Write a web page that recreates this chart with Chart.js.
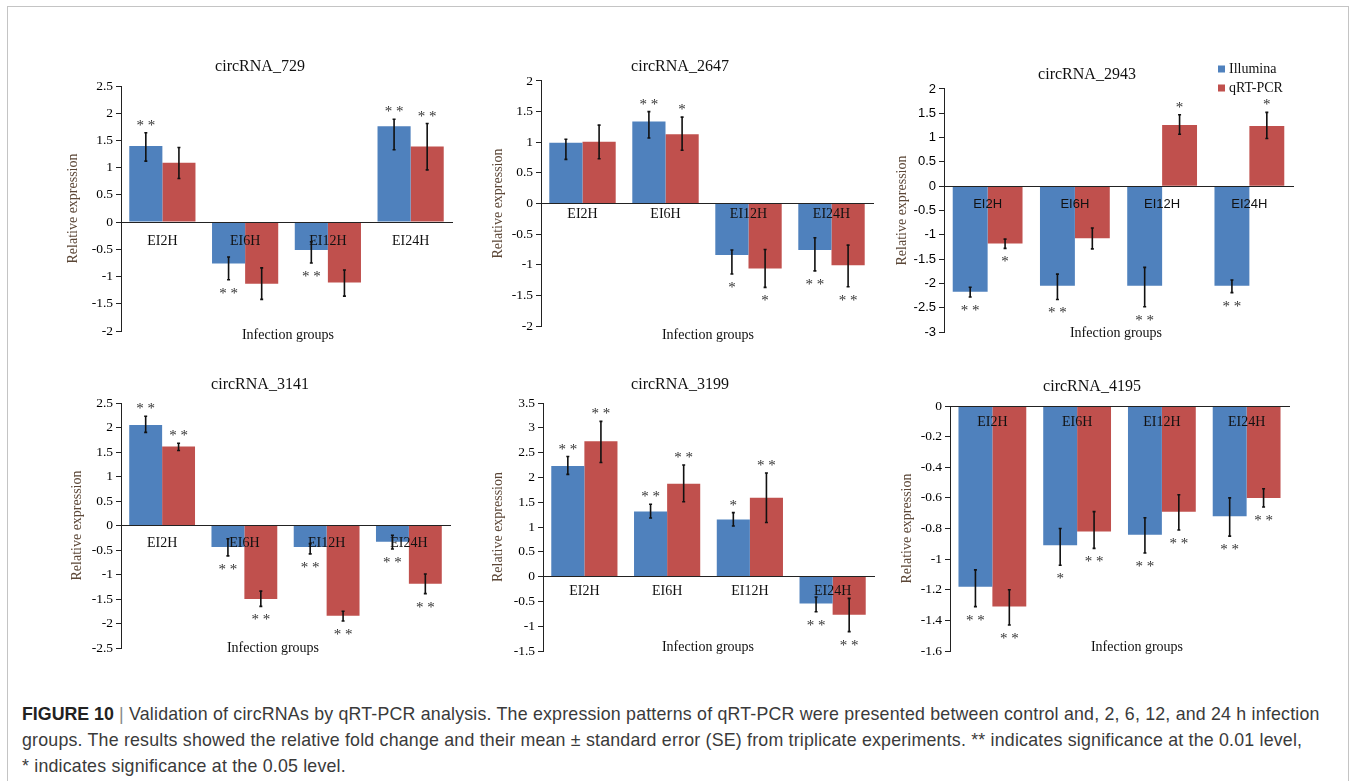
<!DOCTYPE html>
<html>
<head>
<meta charset="utf-8">
<script src="https://cdn.jsdelivr.net/npm/chart.js@4.4.1/dist/chart.umd.min.js"></script>
<style>
    body { margin: 0; background: #fff; width: 1356px; height: 781px; overflow: hidden; position: relative; }
    .frame { position: absolute; left: 7px; top: 6px; width: 1340px; height: 800px; border: 1px solid #c4c4c4; }
    canvas { position: absolute; }
    .caption {
        position: absolute; left: 22px; top: 701px; white-space: nowrap; letter-spacing: 0.2px;
        font-family: "Liberation Sans", Arial, sans-serif; font-size: 17.8px; line-height: 26px; color: #3a3a3a;
    }
    .caption b { color: #222; letter-spacing: 0; }
    .caption .bar { color: #888; }
</style>
</head>
<body>
<div class="frame"></div>

<div class="caption"><b>FIGURE 10</b> <span class="bar">|</span> Validation of circRNAs by qRT-PCR analysis. The expression patterns of qRT-PCR were presented between control and, 2, 6, 12, and 24 h infection<br>groups. The results showed the relative fold change and their mean ± standard error (SE) from triplicate experiments. ** indicates significance at the 0.01 level,<br>* indicates significance at the 0.05 level.</div>

<script>
// categories and series
var categories = ["EI2H", "EI6H", "EI12H", "EI24H"];
var seriesNames = ["Illumina", "qRT-PCR"];

// circRNA_729
var c729_illumina = [1.40, -0.76, -0.51, 1.76];
var c729_qpcr = [1.09, -1.13, -1.11, 1.39];
var c729_illumina_hi = [1.64, -0.64, -0.36, 1.89];
var c729_illumina_lo = [1.12, -1.06, -0.75, 1.33];
var c729_qpcr_hi = [1.37, -0.84, -0.88, 1.81];
var c729_qpcr_lo = [0.80, -1.42, -1.36, 0.96];
var c729_illumina_sig = ["**", "**", "**", "**"];
var c729_qpcr_sig = ["", "", "", "**"];

// circRNA_2647
var c2647_illumina = [0.99, 1.34, -0.84, -0.76];
var c2647_qpcr = [1.01, 1.13, -1.06, -1.01];
var c2647_illumina_hi = [1.05, 1.50, -0.76, -0.56];
var c2647_illumina_lo = [0.72, 1.07, -1.15, -1.10];
var c2647_qpcr_hi = [1.28, 1.41, -0.75, -0.68];
var c2647_qpcr_lo = [0.73, 0.87, -1.37, -1.36];
var c2647_illumina_sig = ["", "**", "*", "**"];
var c2647_qpcr_sig = ["", "*", "*", "**"];

// circRNA_2943
var c2943_illumina = [-2.17, -2.05, -2.05, -2.05];
var c2943_qpcr = [-1.18, -1.07, 1.26, 1.24];
var c2943_illumina_hi = [-2.08, -1.81, -1.67, -1.93];
var c2943_illumina_lo = [-2.28, -2.33, -2.48, -2.19];
var c2943_qpcr_hi = [-1.09, -0.86, 1.47, 1.52];
var c2943_qpcr_lo = [-1.28, -1.29, 1.07, 0.98];
var c2943_illumina_sig = ["**", "**", "**", "**"];
var c2943_qpcr_sig = ["*", "", "*", "*"];

// circRNA_3141
var c3141_illumina = [2.05, -0.44, -0.44, -0.33];
var c3141_qpcr = [1.61, -1.50, -1.84, -1.19];
var c3141_illumina_hi = [2.23, -0.27, -0.37, -0.20];
var c3141_illumina_lo = [1.90, -0.62, -0.58, -0.48];
var c3141_qpcr_hi = [1.68, -1.34, -1.75, -0.99];
var c3141_qpcr_lo = [1.53, -1.65, -1.95, -1.39];
var c3141_illumina_sig = ["**", "**", "**", "**"];
var c3141_qpcr_sig = ["**", "**", "**", "**"];

// circRNA_3199
var c3199_illumina = [2.23, 1.31, 1.15, -0.54];
var c3199_qpcr = [2.73, 1.87, 1.59, -0.77];
var c3199_illumina_hi = [2.42, 1.46, 1.29, -0.41];
var c3199_illumina_lo = [2.06, 1.18, 1.02, -0.71];
var c3199_qpcr_hi = [3.13, 2.25, 2.09, -0.44];
var c3199_qpcr_lo = [2.30, 1.51, 1.09, -1.11];
var c3199_illumina_sig = ["**", "**", "*", "**"];
var c3199_qpcr_sig = ["**", "**", "**", "**"];

// circRNA_4195
var c4195_illumina = [-1.18, -0.91, -0.84, -0.72];
var c4195_qpcr = [-1.31, -0.82, -0.69, -0.60];
var c4195_illumina_hi = [-1.07, -0.80, -0.73, -0.60];
var c4195_illumina_lo = [-1.31, -1.04, -0.96, -0.85];
var c4195_qpcr_hi = [-1.20, -0.69, -0.58, -0.54];
var c4195_qpcr_lo = [-1.43, -0.93, -0.81, -0.66];
var c4195_illumina_sig = ["**", "*", "**", "**"];
var c4195_qpcr_sig = ["**", "**", "**", "**"];

var BLUE = "#4F81BD";
var RED = "#C0504D";
var SERIF = "'Liberation Serif', 'Times New Roman', serif";
var SANS = "'Liberation Sans', Arial, sans-serif";

// error bars + significance stars + x caption + optional legend
var extrasPlugin = {
    id: "extras",
    afterDraw: function (chart, args, opts) {
        var ctx = chart.ctx;
        var yScale = chart.scales.y;
        ctx.save();
        chart.data.datasets.forEach(function (ds, di) {
            var meta = chart.getDatasetMeta(di);
            meta.data.forEach(function (bar, i) {
                var hi = yScale.getPixelForValue(ds.errHi[i]);
                var lo = yScale.getPixelForValue(ds.errLo[i]);
                ctx.strokeStyle = "#111";
                ctx.lineWidth = 1.6;
                ctx.beginPath();
                ctx.moveTo(bar.x, hi);
                ctx.lineTo(bar.x, lo);
                ctx.moveTo(bar.x - 1.5, hi);
                ctx.lineTo(bar.x + 1.5, hi);
                ctx.moveTo(bar.x - 1.5, lo);
                ctx.lineTo(bar.x + 1.5, lo);
                ctx.stroke();
                var s = ds.sig[i];
                if (s) {
                    ctx.fillStyle = "#333";
                    ctx.font = "15px " + SERIF;
                    ctx.textAlign = "center";
                    ctx.textBaseline = "alphabetic";
                    var cy = ds.data[i] >= 0 ? hi - 10 : lo + 11;
                    ctx.fillText(s.split("").join(" "), bar.x, cy + 7);
                }
            });
        });
        // x axis caption
        ctx.fillStyle = "#111";
        ctx.font = "14px " + SERIF;
        ctx.textAlign = "center";
        ctx.textBaseline = "middle";
        ctx.fillText("Infection groups", opts.xTitleX, opts.xTitleY);
        // legend
        if (opts.legend) {
            chart.data.datasets.forEach(function (ds, di) {
                var ly = opts.legendY + di * 19;
                ctx.fillStyle = ds.backgroundColor;
                ctx.fillRect(opts.legendX, ly - 3.5, 7, 7);
                ctx.fillStyle = "#111";
                ctx.font = "14px " + SERIF;
                ctx.textAlign = "left";
                ctx.textBaseline = "middle";
                ctx.fillText(ds.label, opts.legendX + 11, ly);
            });
        }
        ctx.restore();
    },
};

function makePanel(p) {
    var pT = 4;
    var y0 = Math.round(p.titleY - 9.6 - pT);
    var x0 = p.x0;
    var pL = 2 * (p.titleX - x0) - (p.plotR - x0);
    var pR = 12;
    var W = p.plotR - x0 + pR;
    var H = Math.round(p.plotB - y0 + 24);
    var pB = H - (p.plotB - y0);
    var titleBottom = p.plotT - (y0 + pT + 19.2);
    var yw = p.plotL - x0 - pL;
    var yTitlePad = p.yTitleX - x0 - pL - 8.4;
    var tickFont = p.sans ? { family: SANS, size: 13 } : { family: SERIF, size: 13.5 };
    var catFont = p.sans ? { family: SANS, size: 13 } : { family: SERIF, size: 14 };
    var catHalf = p.sans ? 7.8 : 8.4;

    var canvas = document.createElement("canvas");
    canvas.width = W;
    canvas.height = H;
    canvas.style.left = x0 + "px";
    canvas.style.top = y0 + "px";
    document.body.appendChild(canvas);

    new Chart(canvas, {
        type: "bar",
        data: {
            labels: categories,
            datasets: [
                {
                    label: seriesNames[0],
                    data: p.a,
                    errHi: p.aHi,
                    errLo: p.aLo,
                    sig: p.aSig,
                    backgroundColor: BLUE,
                    borderWidth: 0,
                },
                {
                    label: seriesNames[1],
                    data: p.b,
                    errHi: p.bHi,
                    errLo: p.bLo,
                    sig: p.bSig,
                    backgroundColor: RED,
                    borderWidth: 0,
                },
            ],
        },
        options: {
            responsive: false,
            animation: false,
            devicePixelRatio: 1,
            layout: { padding: { left: pL, right: pR, top: pT, bottom: pB } },
            datasets: { bar: { categoryPercentage: 0.8, barPercentage: 1.0 } },
            scales: {
                x: {
                    position: { y: 0 },
                    offset: true,
                    grid: { display: false, drawTicks: false },
                    border: { display: true, color: "#222", width: 1, z: 1 },
                    ticks: {
                        color: "#111",
                        font: catFont,
                        padding: p.labelOff - catHalf,
                        z: 1,
                        maxRotation: 0,
                        autoSkip: false,
                    },
                },
                y: {
                    min: p.yMin,
                    max: p.yMax,
                    ticks: {
                        stepSize: p.step,
                        color: "#000",
                        font: tickFont,
                        padding: 3,
                        callback: function (v) {
                            return String(Math.round(v * 10) / 10);
                        },
                    },
                    grid: { display: true, drawOnChartArea: false, drawTicks: true, tickLength: 5, color: "#222" },
                    border: { display: true, color: "#222", width: 1 },
                    title: {
                        display: true,
                        text: "Relative expression",
                        color: "#5b4636",
                        font: { family: SERIF, size: 14 },
                        padding: { top: yTitlePad, bottom: 0 },
                    },
                    afterFit: function (s) {
                        s.width = yw;
                    },
                },
            },
            plugins: {
                legend: { display: false },
                tooltip: { enabled: false },
                title: {
                    display: true,
                    text: p.title,
                    color: "#111",
                    font: { family: SERIF, size: 16, weight: "normal" },
                    padding: { top: 0, bottom: titleBottom },
                },
                extras: {
                    xTitleX: p.xTitleX - x0,
                    xTitleY: p.xTitleY - y0,
                    legend: !!p.legend,
                    legendX: 1218 - x0,
                    legendY: 69 - y0,
                },
            },
        },
        plugins: [extrasPlugin],
    });
}

makePanel({
    title: "circRNA_729", x0: 60, titleX: 260, titleY: 67,
    plotL: 121, plotR: 452, plotT: 86, plotB: 331, yTitleX: 73,
    xTitleX: 288, xTitleY: 335, labelOff: 19,
    yMin: -2, yMax: 2.5, step: 0.5,
    a: c729_illumina, aHi: c729_illumina_hi, aLo: c729_illumina_lo, aSig: c729_illumina_sig,
    b: c729_qpcr, bHi: c729_qpcr_hi, bLo: c729_qpcr_lo, bSig: c729_qpcr_sig,
});
makePanel({
    title: "circRNA_2647", x0: 480, titleX: 680, titleY: 67,
    plotL: 541, plotR: 873, plotT: 81, plotB: 326, yTitleX: 498,
    xTitleX: 708, xTitleY: 335, labelOff: 11,
    yMin: -2, yMax: 2, step: 0.5,
    a: c2647_illumina, aHi: c2647_illumina_hi, aLo: c2647_illumina_lo, aSig: c2647_illumina_sig,
    b: c2647_qpcr, bHi: c2647_qpcr_hi, bLo: c2647_qpcr_lo, bSig: c2647_qpcr_sig,
});
makePanel({
    title: "circRNA_2943", x0: 880, titleX: 1087, titleY: 75,
    plotL: 944, plotR: 1293, plotT: 89, plotB: 332, yTitleX: 902,
    xTitleX: 1116, xTitleY: 333, labelOff: 18, sans: true, legend: true,
    yMin: -3, yMax: 2, step: 0.5,
    a: c2943_illumina, aHi: c2943_illumina_hi, aLo: c2943_illumina_lo, aSig: c2943_illumina_sig,
    b: c2943_qpcr, bHi: c2943_qpcr_hi, bLo: c2943_qpcr_lo, bSig: c2943_qpcr_sig,
});
makePanel({
    title: "circRNA_3141", x0: 60, titleX: 260, titleY: 385,
    plotL: 121, plotR: 450, plotT: 403, plotB: 648, yTitleX: 77,
    xTitleX: 273, xTitleY: 648, labelOff: 18,
    yMin: -2.5, yMax: 2.5, step: 0.5,
    a: c3141_illumina, aHi: c3141_illumina_hi, aLo: c3141_illumina_lo, aSig: c3141_illumina_sig,
    b: c3141_qpcr, bHi: c3141_qpcr_hi, bLo: c3141_qpcr_lo, bSig: c3141_qpcr_sig,
});
makePanel({
    title: "circRNA_3199", x0: 480, titleX: 680, titleY: 385,
    plotL: 543, plotR: 874, plotT: 403, plotB: 651, yTitleX: 498,
    xTitleX: 708, xTitleY: 647, labelOff: 15,
    yMin: -1.5, yMax: 3.5, step: 0.5,
    a: c3199_illumina, aHi: c3199_illumina_hi, aLo: c3199_illumina_lo, aSig: c3199_illumina_sig,
    b: c3199_qpcr, bHi: c3199_qpcr_hi, bLo: c3199_qpcr_lo, bSig: c3199_qpcr_sig,
});
makePanel({
    title: "circRNA_4195", x0: 880, titleX: 1092, titleY: 387,
    plotL: 950, plotR: 1289, plotT: 406, plotB: 651, yTitleX: 907,
    xTitleX: 1137, xTitleY: 647, labelOff: 16,
    yMin: -1.6, yMax: 0, step: 0.2,
    a: c4195_illumina, aHi: c4195_illumina_hi, aLo: c4195_illumina_lo, aSig: c4195_illumina_sig,
    b: c4195_qpcr, bHi: c4195_qpcr_hi, bLo: c4195_qpcr_lo, bSig: c4195_qpcr_sig,
});
</script>
</body>
</html>
